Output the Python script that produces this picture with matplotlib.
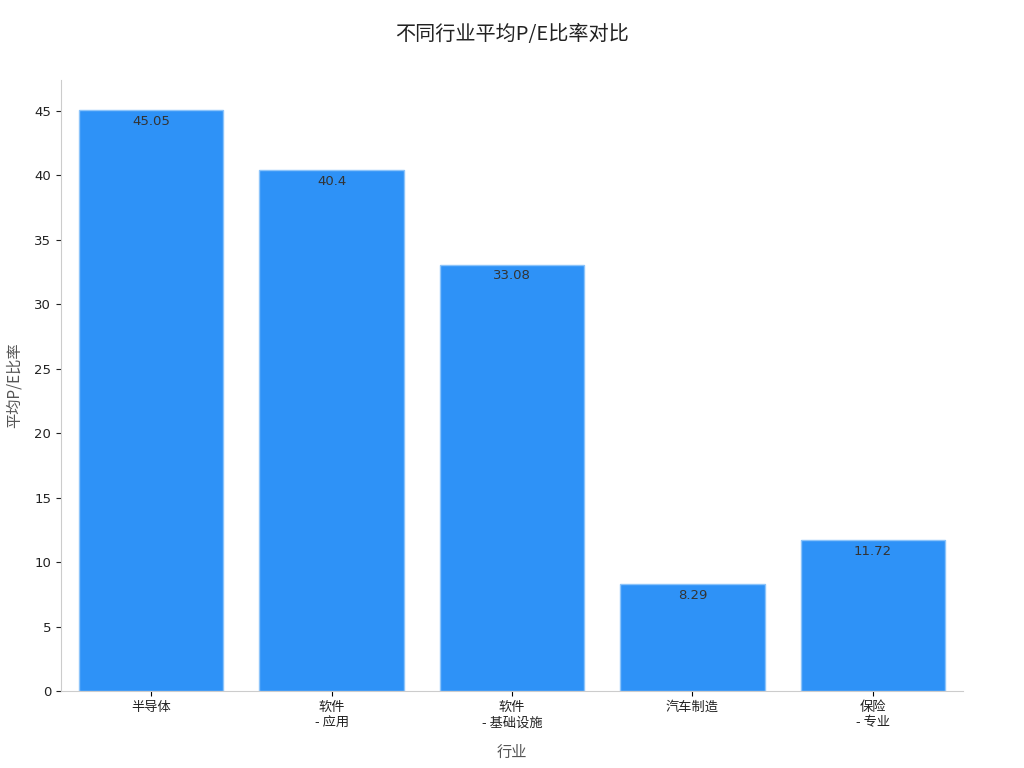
import matplotlib
matplotlib.use("Agg")
import matplotlib.pyplot as plt

plt.rcParams['font.family'] = ['Noto Sans CJK SC', 'DejaVu Sans']

industries = ['半导体', '软件\n- 应用', '软件\n- 基础设施', '汽车制造', '保险\n- 专业']
pe_ratios = [45.05, 40.4, 33.08, 8.29, 11.72]
value_labels = ['45.05', '40.4', '33.08', '8.29', '11.72']

fig = plt.figure(figsize=(10.24, 7.68), dpi=100)
ax = fig.add_axes([0.0596, 0.1003, 0.8809, 0.7955])

x = range(len(industries))
bars = ax.bar(x, pe_ratios, width=0.8, color='#2e92f7', edgecolor='#8cc4fa', linewidth=1)

for b, lab in zip(bars, value_labels):
    ax.annotate(lab, (b.get_x() + b.get_width() / 2, b.get_height()),
                xytext=(0, -3.5), textcoords='offset points',
                ha='center', va='top', fontsize=9.5, color='#333333',
                family=['DejaVu Sans'])

ax.set_xticks(list(x))
ax.set_xticklabels(industries, fontsize=9.5, color='#222222', linespacing=1.3)
ax.set_xlim(-0.5, 4.5)
ax.set_ylim(0, 47.4)
ax.set_yticks([0, 5, 10, 15, 20, 25, 30, 35, 40, 45])
ax.tick_params(axis='y', labelsize=9.5, colors='#222222')
for lbl in ax.get_yticklabels():
    lbl.set_family(['DejaVu Sans'])

for s in ['top', 'right']:
    ax.spines[s].set_visible(False)
for s in ['left', 'bottom']:
    ax.spines[s].set_color('#cccccc')

ax.set_xlabel('行业', fontsize=11, color='#555555', labelpad=10)
ax.set_ylabel('平均P/E比率', fontsize=11, color='#555555', labelpad=8)
fig.suptitle('不同行业平均P/E比率对比', fontsize=14.5, color='#222222', y=0.969)

fig.savefig('out.png', dpi=100)
